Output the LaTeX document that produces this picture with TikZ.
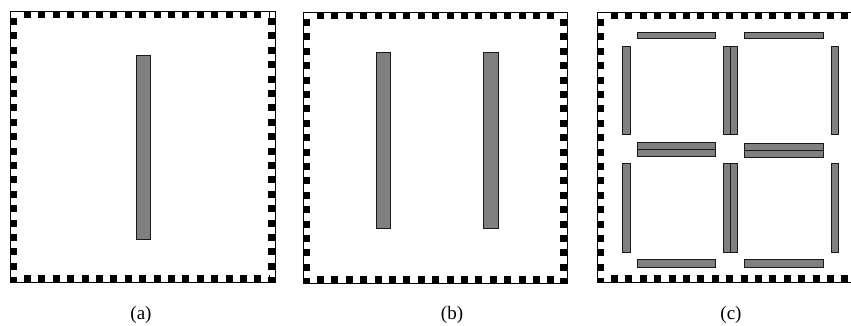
\documentclass[tikz,border=0pt]{standalone}
\usepackage{fontspec}
\setmainfont{Liberation Serif}

% frame with square teeth along its inner edges
\newcommand{\toothframe}[4]{%
  \draw[frameline] (#1,#2) rectangle (#3,#4);
  \draw[teeth] (#1+14,#2+3.3) -- (#3-6,#2+3.3);
  \draw[teeth] (#1+3.5,#2+7) -- (#1+3.5,#4);
  \draw[teeth] (#3-3.5,#2+7) -- (#3-3.5,#4);
  \draw[teeth] (#1+14,#4-3.5) -- (#3-6,#4-3.5);
}

\begin{document}
\begin{tikzpicture}[
    x=1pt, y=-1pt,
    frameline/.style={draw=black, line width=1pt},
    teeth/.style={draw=black, line width=6.6pt, dash pattern=on 7pt off 7.4pt},
    bar/.style={draw=black!90, fill=black!50, line width=1pt},
    caption/.style={font=\fontsize{19}{22}\selectfont, inner sep=0pt}
]
\useasboundingbox (0,0) rectangle (851,325);
\clip (0,0) rectangle (851,325);

% (a) one bar
\toothframe{10}{11}{275}{282}
\draw[bar] (136,55) rectangle (150,239);

% (b) two bars
\toothframe{303}{12}{567}{283}
\draw[bar] (376,52) rectangle (390,228);
\draw[bar] (483,52) rectangle (498,228);

% (c) grid of bars
\toothframe{597}{12}{880}{282}
% horizontal bars
\draw[bar] (637,32) rectangle (715,38);
\draw[bar] (744,32) rectangle (823,38);
\draw[bar] (637,142) rectangle (715,149);
\draw[bar] (637,149) rectangle (715,156);
\draw[bar] (744,143) rectangle (823,150);
\draw[bar] (744,150) rectangle (823,157);
\draw[bar] (637,259) rectangle (715,267);
\draw[bar] (744,259) rectangle (823,267);
% vertical bars
\draw[bar] (622,46) rectangle (630,134);
\draw[bar] (723,46) rectangle (730,134);
\draw[bar] (730,46) rectangle (737,134);
\draw[bar] (831,46) rectangle (838,134);
\draw[bar] (622,163) rectangle (630,252);
\draw[bar] (723,163) rectangle (730,252);
\draw[bar] (730,163) rectangle (737,252);
\draw[bar] (831,163) rectangle (838,252);

% captions
\node[caption] (capa) at (141,315) {(a)};
\node[caption] (capb) at (452,315) {(b)};
\node[caption] (capc) at (731,315) {(c)};

\end{tikzpicture}
\end{document}
